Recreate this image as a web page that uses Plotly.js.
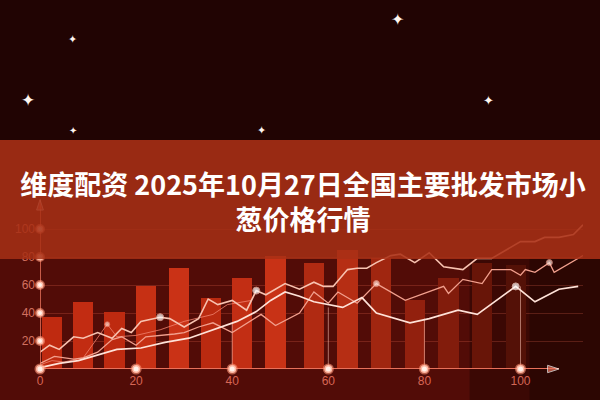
<!DOCTYPE html>
<html>
<head>
<meta charset="utf-8">
<script src="https://cdn.plot.ly/plotly-3.0.1.min.js"></script>
<style>
  html, body { margin: 0; padding: 0; background: #200403; }
  #chart { width: 600px; height: 400px; }
</style>
</head>
<body>
<div id="chart"></div>
<script>
// ---- data ----
const titleText = '维度配资 2025年10月27日全国主要批发市场小<br>葱价格行情';

const xTicks = [0, 20, 40, 60, 80, 100];
const yTicks = [20, 40, 60, 80, 100];

const barX = [2.5, 9, 15.5, 22, 29, 35.5, 42, 49, 57, 64, 71, 78, 85, 92, 99];
const barY = [37, 48, 41, 59, 72, 51, 65, 81, 76, 85, 79, 49, 65, 76, 74];

const line1X = [0,2,4,7,9,12,15,17,19,21,25,27,30,33,35,37,40,43,45,47,51,54,57,59,61,64,66,68,70,73,75,78,81,84,88,91,94,97,100,103,105,108,111,113];
const line1Y = [12,17,14,23,22,26,22,29,26,34,37,36,30,36,50,46,49,42,56,53,61,57,62,59,59,71,72,72,76,81,82,76,83,73,71,79,79,85,91,91,94,94,96,103];

const line2X = [0,3,7,9,12,15,17,20,22,26,28,30,33,36,40,46,49,54,57,60,62,66,70,76,84,85,88,92,94,98,100,101,103,106,107,113];
const line2Y = [4,9,7,8,12,21,23,17,23,24,25,26,30,33,26,39,31,40,55,47,55,47,61,49,59,54,64,61,71,71,67,71,69,76,69,81];

const line3X = [0,4,8,12,16,21,26,31,36,41,45,48,51,54,57,63,67,70,77,81,87,91,99,103,108,112];
const line3Y = [1,4,6,10,14,15,19,22,28,34,41,49,55,52,48,44,51,40,33,36,42,39,59,48,57,59];

const line4X = [0,2.5,5,9,14,16,20,25,30,36,39,44];
const line4Y = [3,6,5,8,32,23,24,28,34,39,46,49];

// highlighted points (x values on the lines)
const line1Dots = [25, 45];
const line2Dots = [70, 106];
const line3Dots = [99];
const line4Dots = [14];

// drop lines from x ticks up to the white line
const dropX = [40, 60, 80, 100];
const dropY = [33, 44, 36, 59];

const xAxisEnd = 108, xAxisStart = -7.5;
const yAxisEnd = 121, yAxisStart = -8;

// sparkles in the dark sky (pixel positions in the 600x400 picture) and sizes
const starPxX = [73, 28, 73, 262, 398, 489];
const starPxY = [39, 100, 130, 130, 19, 100];
const starSize = [11, 17, 10, 11, 16, 13];

// ---- geometry of the plot area ----
const L = 40, R = 16.5, T = 194, B = 31, W = 600, H = 400;
const pw = W - L - R, ph = H - T - B;
const px2paperX = p => (p - L) / pw;
const py2paperY = p => (H - B - p) / ph;

function dotSizes(xs, dots, big) {
  return xs.map(v => dots.includes(v) ? big : 0);
}

const barColors = ['#bf2a10','#c22c12','#be2a10','#c63014','#ca3216','#ba2a10','#c22e14','#c83216',
                   '#b02a12','#b62e14','#a02610','#92200e','#821c0c','#681508','#541107'];

const dropXs = [], dropYs = [];
dropX.forEach((x, i) => { dropXs.push(x, x, null); dropYs.push(0, dropY[i], null); });

const traces = [
  { type: 'bar', x: barX, y: barY, width: 4.2,
    marker: { color: barColors, line: { width: 0 } }, hoverinfo: 'skip' },
  { type: 'scatter', mode: 'lines', x: dropXs, y: dropYs,
    line: { color: 'rgba(255,200,185,0.55)', width: 1 }, hoverinfo: 'skip' },
  { type: 'scatter', mode: 'lines+markers', x: line4X, y: line4Y,
    line: { color: 'rgba(240,130,110,0.8)', width: 1 },
    marker: { size: dotSizes(line4X, line4Dots, 5), color: '#ffd8cc' } },
  { type: 'scatter', mode: 'lines+markers', x: line2X, y: line2Y,
    line: { color: '#f2a08e', width: 1.3 },
    marker: { size: dotSizes(line2X, line2Dots, 6), color: '#ffe6de' } },
  { type: 'scatter', mode: 'lines+markers', x: line3X, y: line3Y,
    line: { color: '#ffe2d8', width: 1.7 },
    marker: { size: dotSizes(line3X, line3Dots, 7), color: '#ffffff' } },
  { type: 'scatter', mode: 'lines+markers', x: line1X, y: line1Y,
    line: { color: '#f8c2b0', width: 1.6 },
    marker: { size: dotSizes(line1X, line1Dots, 7), color: '#ffffff' } },
  // axes drawn as arrows
  { type: 'scatter', mode: 'lines+markers', x: [xAxisStart, xAxisEnd], y: [0, 0], cliponaxis: false,
    line: { color: '#e8705a', width: 2 },
    marker: { symbol: 'arrow', angle: 90, size: [0, 12], color: '#e8705a' }, hoverinfo: 'skip' },
  { type: 'scatter', mode: 'lines+markers', x: [0, 0], y: [yAxisStart, yAxisEnd], cliponaxis: false,
    line: { color: '#e8705a', width: 1.6 },
    marker: { symbol: 'arrow', angle: 0, size: [0, 11], color: '#e8705a' }, hoverinfo: 'skip' },
  // glowing tick dots
  { type: 'scatter', mode: 'markers', x: xTicks, y: xTicks.map(() => 0), cliponaxis: false,
    marker: { size: 8, color: '#fff2ea', line: { color: 'rgba(255,150,120,0.6)', width: 3 } }, hoverinfo: 'skip' },
  { type: 'scatter', mode: 'markers', x: yTicks.map(() => 0), y: yTicks, cliponaxis: false,
    marker: { size: 7, color: '#fff2ea', line: { color: 'rgba(255,150,120,0.6)', width: 3 } }, hoverinfo: 'skip' }
];

const annotations = starPxX.map((px, i) => ({
  xref: 'paper', yref: 'paper', x: px2paperX(px), y: py2paperY(starPxY[i]),
  text: '✦', showarrow: false, xanchor: 'center', yanchor: 'middle',
  font: { family: 'DejaVu Sans', size: starSize[i], color: '#fff6f0' }
}));

const layout = {
  width: W, height: H,
  margin: { l: L, r: R, t: T, b: B, pad: 0 },
  paper_bgcolor: '#210403',
  plot_bgcolor: 'rgba(0,0,0,0)',
  showlegend: false,
  bargap: 0,
  title: {
    text: titleText,
    xref: 'container', yref: 'container', x: 0.505, y: 0.512,
    xanchor: 'center', yanchor: 'middle',
    font: { family: 'Noto Sans CJK SC', size: 27, color: '#ffffff', weight: 'bold' }
  },
  xaxis: {
    range: [0, 113], tickvals: xTicks, ticks: '', showgrid: false, zeroline: false,
    showline: false, automargin: false, ticklabelstandoff: 3,
    tickfont: { family: 'Liberation Sans', size: 12, color: 'rgba(240,120,100,0.85)' },
    fixedrange: true
  },
  yaxis: {
    range: [0, 125], tickvals: yTicks, ticks: '', showgrid: true, zeroline: false,
    gridcolor: 'rgba(255,120,90,0.22)', gridwidth: 1,
    showline: false, automargin: false, ticklabelstandoff: 4,
    tickfont: { family: 'Liberation Sans', size: 12, color: 'rgba(245,140,120,0.8)' },
    fixedrange: true
  },
  shapes: [
    // lower chart background
    { type: 'rect', xref: 'paper', yref: 'paper', x0: -0.1, x1: 1.1, y0: -0.3, y1: py2paperY(259),
      fillcolor: '#520c07', line: { width: 0 }, layer: 'below' },
    // darker right side
    { type: 'rect', xref: 'paper', yref: 'paper', x0: px2paperX(470), x1: 1.1, y0: -0.3, y1: py2paperY(259),
      fillcolor: 'rgba(18,2,1,0.35)', line: { width: 0 }, layer: 'below' },
    { type: 'rect', xref: 'paper', yref: 'paper', x0: px2paperX(530), x1: 1.1, y0: -0.3, y1: py2paperY(259),
      fillcolor: 'rgba(18,2,1,0.35)', line: { width: 0 }, layer: 'below' },
    // title band
    { type: 'rect', xref: 'paper', yref: 'paper', x0: -0.1, x1: 1.1, y0: py2paperY(259), y1: py2paperY(140),
      fillcolor: 'rgba(170,48,22,0.88)', line: { width: 0 }, layer: 'above' }
  ],
  annotations: annotations
};

Plotly.newPlot('chart', traces, layout, { staticPlot: true, displayModeBar: false });
</script>
</body>
</html>
